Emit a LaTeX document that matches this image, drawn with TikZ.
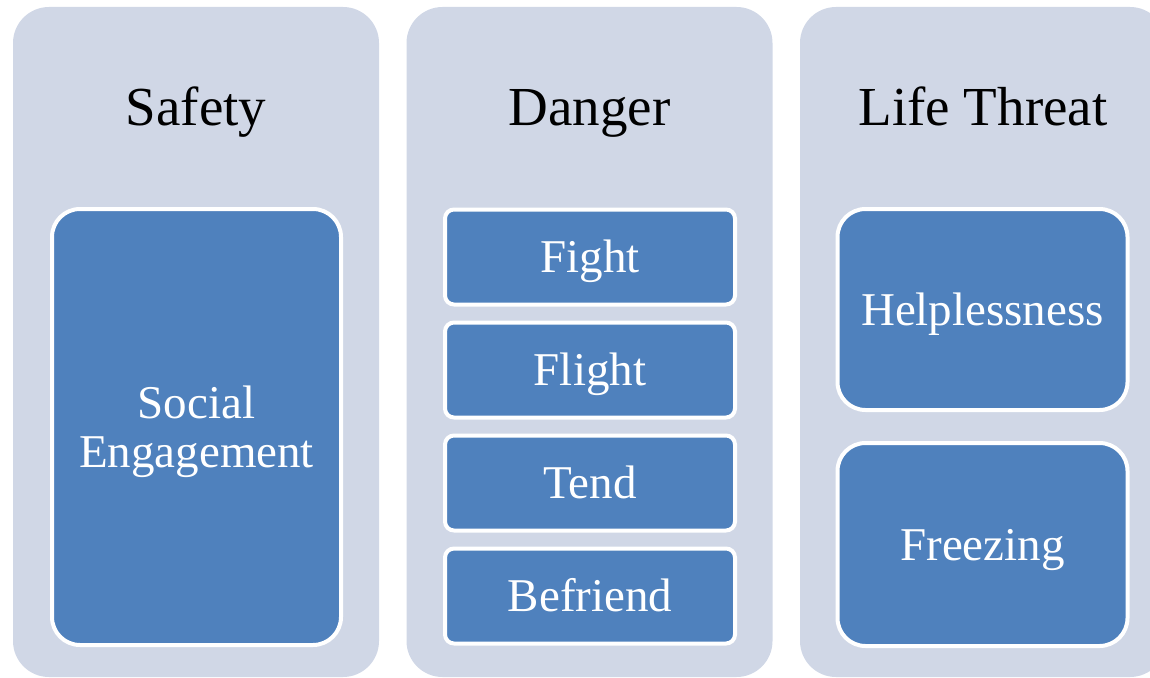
\documentclass[tikz,border=0pt]{standalone}
\usepackage{fontspec}
\setmainfont{Liberation Serif}
\definecolor{colbg}{RGB}{208,215,230}
\definecolor{boxblue}{RGB}{79,129,189}
\begin{document}
\begin{tikzpicture}[x=1pt,y=-1pt,
  column/.style={fill=colbg, rounded corners=36pt, minimum width=366pt, minimum height=670pt, inner sep=0pt},
  title/.style={anchor=base, font=\fontsize{55}{60}\selectfont, text=black},
  item/.style={fill=boxblue, draw=white, line width=4pt, text=white, inner sep=0pt,
    font=\fontsize{47}{49}\selectfont, text height=31pt, text depth=0pt},
  bigitem/.style={item, rounded corners=28pt, minimum width=290pt},
  smallitem/.style={item, rounded corners=9pt, minimum width=290pt, minimum height=95pt}
]
\useasboundingbox (0,0) rectangle (1150,677);
\clip (0,0) rectangle (1150,677);
% columns
\node[column] (c1) at (196,342) {};
\node[column] (c2) at (589.5,342) {};
\node[column] (c3) at (983,342) {};
% titles
\node[title] (t1) at (196,125) {Safety};
\node[title] (t2) at (589.5,125) {Danger};
\node[title] (t3) at (983,125) {Life Threat};
% safety
\node[item, rounded corners=28pt, minimum width=289pt, minimum height=436pt,
  align=center, text height=, text depth=0pt] (social) at (196.5,427)
  {Social\\Engagement};
% danger
\node[smallitem] (fight) at (590,257) {Fight};
\node[smallitem] (flight) at (590,370) {Flight};
\node[smallitem] (tend) at (590,483) {Tend};
\node[smallitem] (befriend) at (590,596) {Befriend};
% life threat
\node[bigitem, minimum height=201pt] (help) at (982.5,309.5) {Helplessness};
\node[bigitem, minimum height=203pt] (freeze) at (982.5,544.5) {Freezing};
\end{tikzpicture}
\end{document}
